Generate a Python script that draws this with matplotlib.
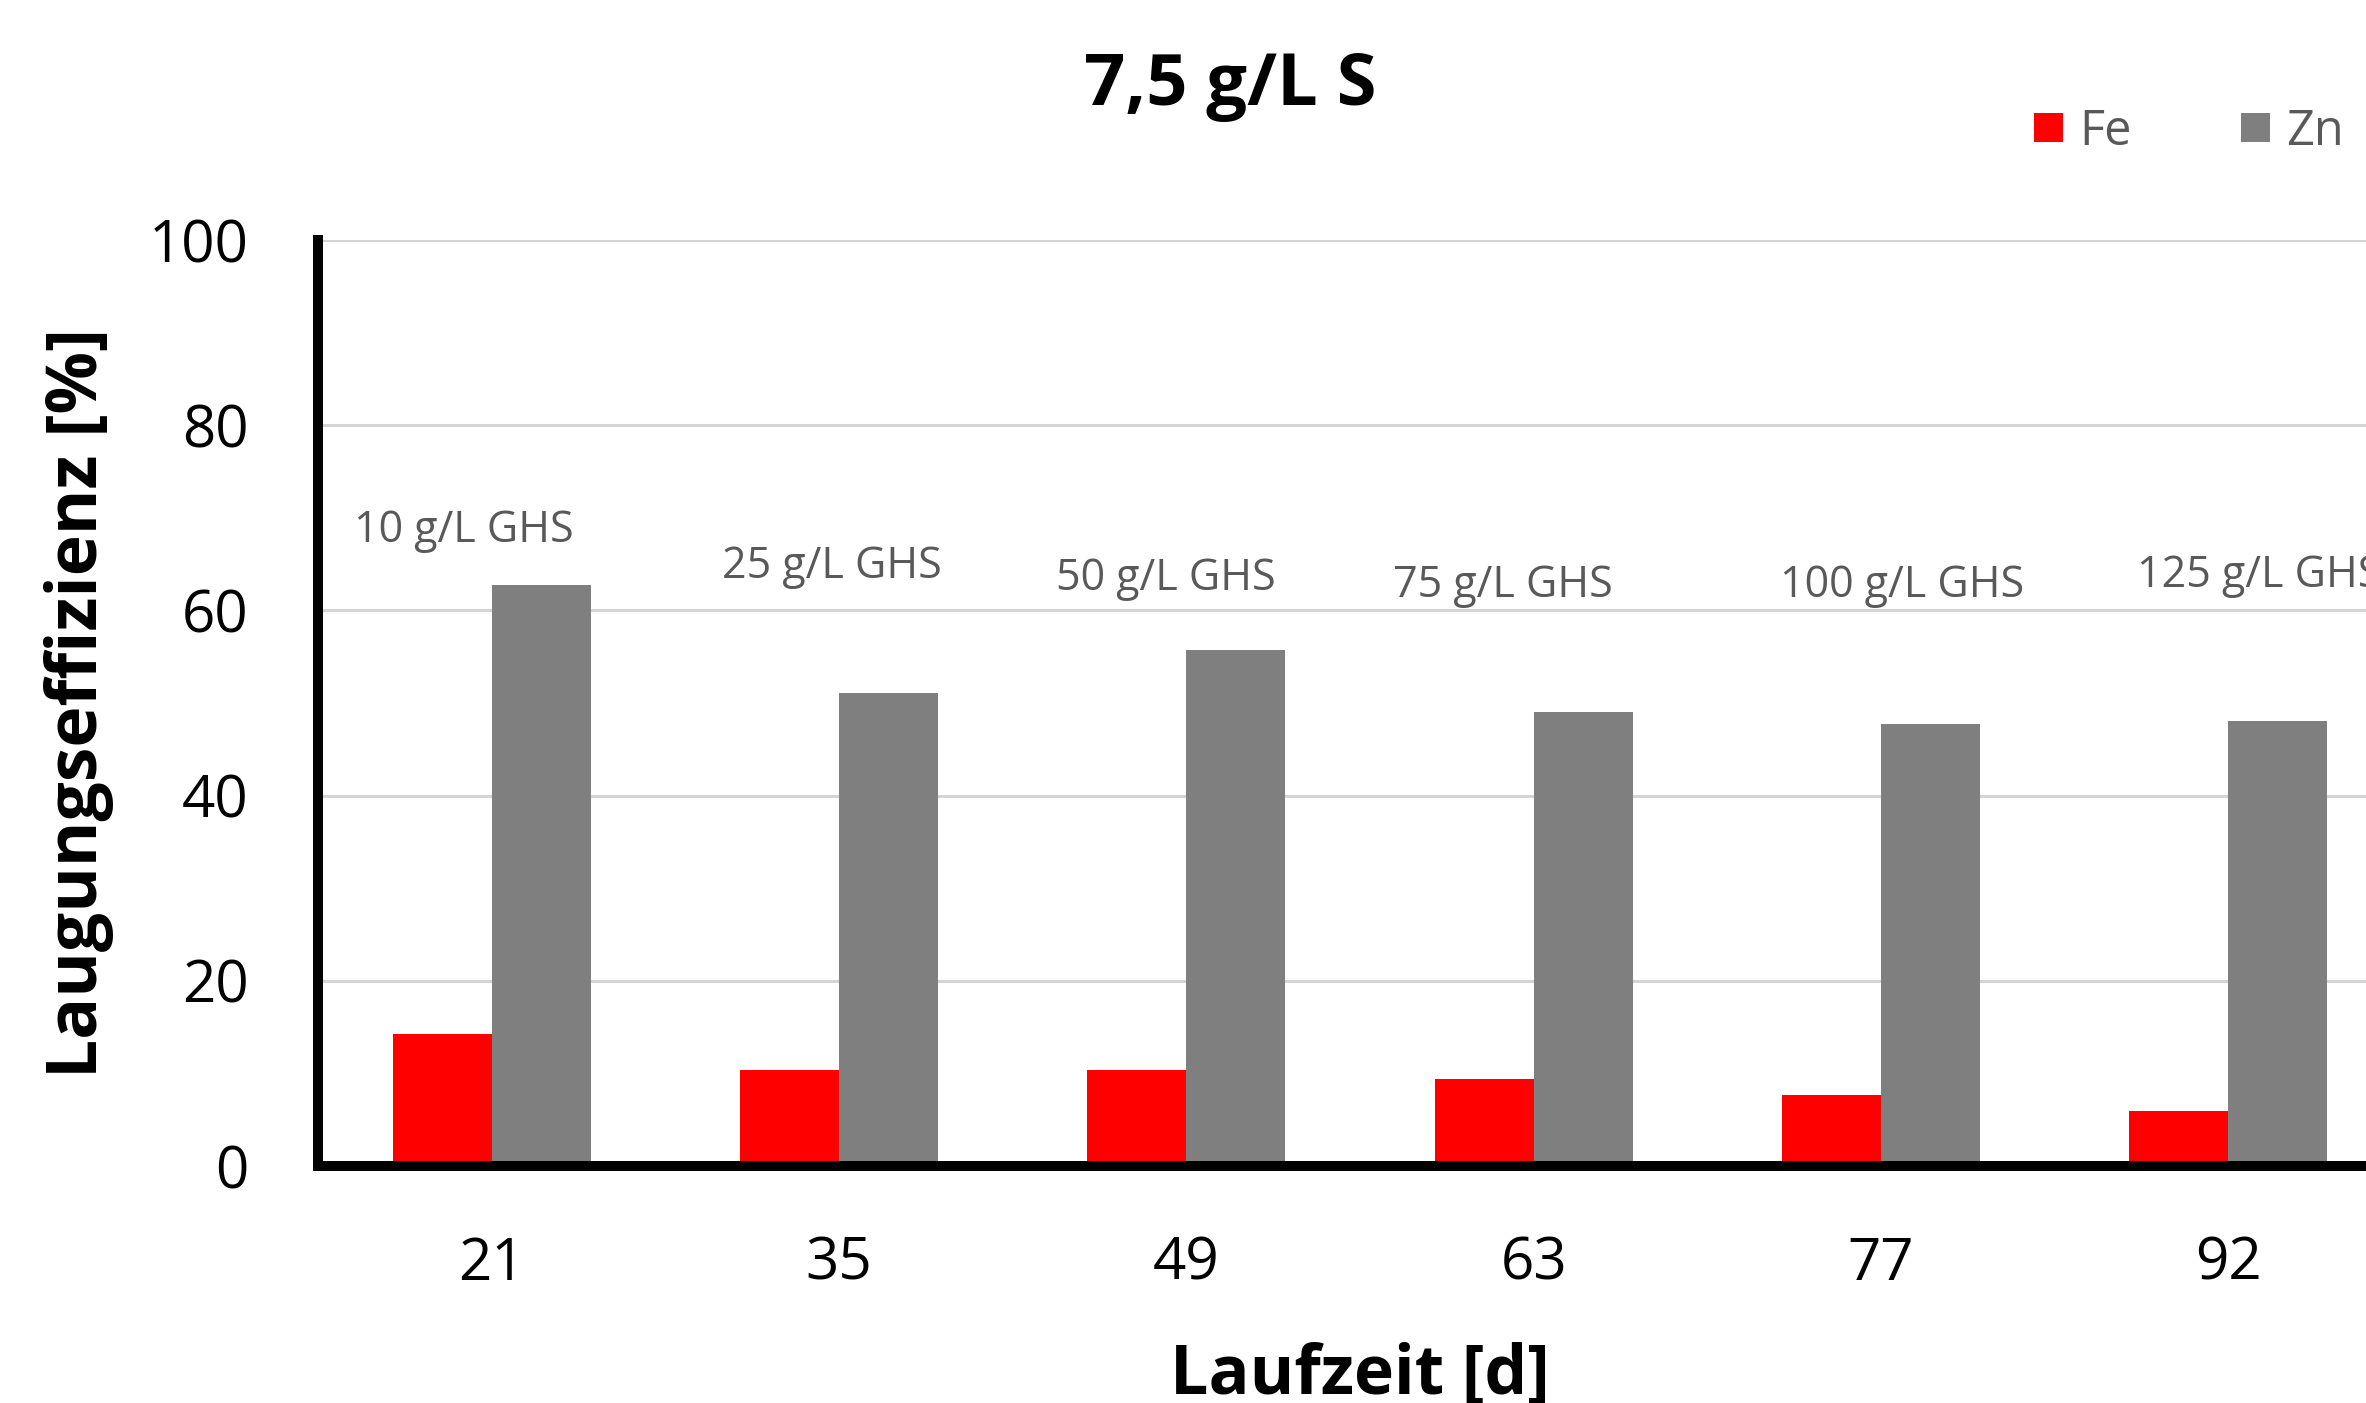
import numpy as np
import matplotlib
matplotlib.use("Agg")
import matplotlib.pyplot as plt

plt.rcParams["font.family"] = ["Open Sans", "DejaVu Sans"]

# Daten
laufzeit = ["21", "35", "49", "63", "77", "92"]
fe = [14.2, 10.4, 10.4, 9.4, 7.7, 5.9]
zn = [62.7, 51.1, 55.7, 49.0, 47.7, 48.0]
ghs = ["10 g/L GHS", "25 g/L GHS", "50 g/L GHS", "75 g/L GHS", "100 g/L GHS", "125 g/L GHS"]

# Position der GHS-Beschriftungen (Versatz zur Gruppe, Hoehe in %)
ghs_dx = [-0.08, -0.02, -0.06, -0.09, 0.06, 0.09]
ghs_y = [68.6, 64.7, 63.4, 62.7, 62.7, 63.7]

fig = plt.figure(figsize=(23.66, 14.03), dpi=100)
ax = fig.add_axes([0.1344, 0.169, 0.8808, 0.66])

x = np.arange(len(laufzeit))
width = 0.285
ax.bar(x - width / 2, fe, width=width, color="#ff0000", label="Fe", zorder=2)
ax.bar(x + width / 2, zn, width=width, color="#7f7f7f", label="Zn", zorder=2)

for i, t in enumerate(ghs):
    ax.text(x[i] + ghs_dx[i], ghs_y[i], t, ha="center", va="center",
            fontsize=31, color="#595959")

ax.set_xlim(-0.5, len(laufzeit) - 0.5)
ax.set_ylim(0, 100)
ax.set_yticks([0, 20, 40, 60, 80, 100])
ax.set_xticks(x)
ax.set_xticklabels(laufzeit)
ax.tick_params(axis="both", length=0, labelsize=42, colors="black")
ax.tick_params(axis="y", pad=50)
ax.tick_params(axis="x", pad=50)

ax.grid(axis="y", color="#d4d4d4", linewidth=2.2)
ax.set_axisbelow(True)
for s in ["top", "right"]:
    ax.spines[s].set_visible(False)
for s in ["left", "bottom"]:
    ax.spines[s].set_linewidth(7.2)
    ax.spines[s].set_color("black")

ax.set_ylabel("Laugungseffizienz [%]", fontsize=50, fontweight="bold")
ax.yaxis.set_label_coords(-0.098, 0.5)
ax.set_xlabel("Laufzeit [d]", fontsize=49, fontweight="bold", va="top")
ax.xaxis.set_label_coords(0.5, -0.19)

fig.text(0.52, 0.939, "7,5 g/L S", ha="center", va="center",
         fontsize=52, fontweight="bold")

fig.legend(loc="center left", bbox_to_anchor=(0.8597, 0.906), ncol=2,
           frameon=False, fontsize=35, labelcolor="#595959",
           handlelength=0.6, handleheight=0.55, handletextpad=0.33,
           columnspacing=2.25, borderpad=0, borderaxespad=0)

fig.savefig("out.png", dpi=100)
